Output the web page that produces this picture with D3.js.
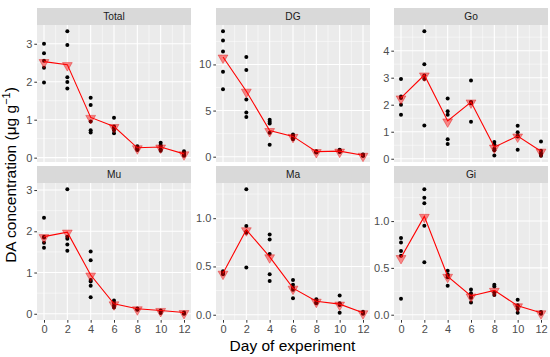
<!DOCTYPE html>
<html><head><meta charset="utf-8">
<script src="https://cdn.jsdelivr.net/npm/d3@7"></script>
<style>body{margin:0;background:#fff}svg{display:block}</style>
</head><body>
<svg id="c" width="550" height="357"></svg>
<script>
const days = [0, 2, 4, 6, 8, 10, 12];
const xTicks = [0, 2, 4, 6, 8, 10, 12];
const panelNames = ["Total", "DG", "Go", "Mu", "Ma", "Gi"];

// replicate points per day
const totalPts = [[3.0,2.75,2.55,2.37,1.98],[3.33,2.97,2.12,1.99,1.82],[1.58,1.39,0.95,0.72,0.66],[1.05,0.82,0.78,0.72,0.64],[0.30,0.27,0.24,0.22,0.20],[0.39,0.33,0.28,0.22,0.18],[0.17,0.12,0.09,0.07,0.05]];
const dgPts = [[13.6,12.6,11.4,9.2,7.3],[10.8,9.4,6.2,4.8,4.3],[4.0,3.8,3.6,2.6,1.3],[2.4,2.3,2.2,2.0,1.9],[0.6,0.55,0.5,0.5,0.45],[0.75,0.7,0.6,0.55,0.5],[0.25,0.2,0.15,0.1,0.1]];
const goPts = [[2.95,2.3,2.25,2.0,1.63],[4.72,3.5,3.08,2.95,1.23],[2.23,1.76,1.63,0.72,0.55],[2.9,2.1,2.05,2.05,1.37],[0.62,0.53,0.37,0.31,0.12],[1.22,0.98,0.85,0.82,0.33],[0.64,0.3,0.2,0.16,0.11]];
const muPts = [[2.33,1.87,1.85,1.72,1.6],[3.02,1.87,1.82,1.68,1.53],[1.51,1.30,0.82,0.78,0.68,0.40],[0.32,0.26,0.2,0.15],[0.13,0.11,0.1],[0.08,0.06,0.02],[0.03,0.01,0.0]];
const maPts = [[0.45,0.44,0.43,0.42],[1.30,0.92,0.86,0.85,0.49],[0.83,0.78,0.63,0.42,0.35],[0.36,0.31,0.28,0.26,0.17],[0.16,0.15,0.13,0.12],[0.2,0.12,0.1,0.02],[0.03,0.02,0.01]];
const giPts = [[0.82,0.77,0.68,0.63,0.17],[1.34,1.25,1.19,0.95,0.56],[0.47,0.43,0.42,0.40,0.31],[0.27,0.23,0.2,0.18,0.13],[0.32,0.30,0.24,0.21],[0.16,0.1,0.09,0.06,0.02],[0.03,0.02,0.01]];

// means (triangles)
const totalMean = [2.53, 2.45, 1.06, 0.82, 0.26, 0.28, 0.10];
const dgMean = [10.8, 7.1, 2.83, 2.2, 0.55, 0.6, 0.15];
const goMean = [2.25, 3.1, 1.4, 2.1, 0.43, 0.84, 0.28];
const muMean = [1.87, 1.98, 0.94, 0.24, 0.12, 0.08, 0.03];
const maMean = [0.43, 0.88, 0.60, 0.275, 0.14, 0.11, 0.02];
const giMean = [0.61, 1.05, 0.41, 0.20, 0.26, 0.095, 0.02];

const yTicks = [[0,1,2,3],[0,5,10],[0,1,2,3,4],[0,1,2,3],[0,0.5,1.0],[0,0.5,1.0]];
const yTickLabels = [["0","1","2","3"],["0","5","10"],["0","1","2","3","4"],["0","1","2","3"],["0.0","0.5","1.0"],["0.0","0.5","1.0"]];
const allPts = [totalPts, dgPts, goPts, muPts, maPts, giPts];
const allMeans = [totalMean, dgMean, goMean, muMean, maMean, giMean];

const svg = d3.select("#c");
const font = "Liberation Sans, Arial, sans-serif";
const colX = [37, 216, 394];
const panelW = 154;
const rowStripTop = [8, 166];
const stripH = 17;
const panelH = 137;

panelNames.forEach((name, i) => {
  const col = i % 3, row = Math.floor(i / 3);
  const x0 = colX[col];
  const sTop = rowStripTop[row];
  const pTop = sTop + stripH;
  const pts = allPts[i], means = allMeans[i];
  const flat = pts.flat().concat(means);
  const lo = d3.min(flat), hi = d3.max(flat), span = hi - lo;
  const y = d3.scaleLinear().domain([lo - 0.05 * span, hi + 0.05 * span]).range([pTop + panelH, pTop]);
  const x = d3.scaleLinear().domain([-0.6, 12.6]).range([x0, x0 + panelW]);
  const g = svg.append("g");
  // strip
  g.append("rect").attr("x", x0).attr("y", sTop).attr("width", panelW).attr("height", stripH).attr("fill", "#D9D9D9");
  g.append("text").attr("x", x0 + panelW / 2).attr("y", sTop + stripH / 2 + 3.6).attr("text-anchor", "middle")
    .attr("font-family", font).attr("font-size", 10.2).attr("fill", "#1A1A1A").text(name);
  // panel
  g.append("rect").attr("x", x0).attr("y", pTop).attr("width", panelW).attr("height", panelH).attr("fill", "#EBEBEB");
  // minor grid
  const yt = yTicks[i];
  const step = yt[1] - yt[0];
  const [dlo, dhi] = y.domain();
  const yMinor = [];
  for (let v = yt[0] - step / 2; v <= dhi; v += step) if (v >= dlo) yMinor.push(v);
  g.selectAll(".ymin").data(yMinor).enter().append("line")
    .attr("x1", x0).attr("x2", x0 + panelW).attr("y1", d => y(d)).attr("y2", d => y(d))
    .attr("stroke", "#fff").attr("stroke-width", 0.5);
  const xMinor = [1, 3, 5, 7, 9, 11];
  g.selectAll(".xmin").data(xMinor).enter().append("line")
    .attr("y1", pTop).attr("y2", pTop + panelH).attr("x1", d => x(d)).attr("x2", d => x(d))
    .attr("stroke", "#fff").attr("stroke-width", 0.5);
  // major grid
  g.selectAll(".ymaj").data(yt).enter().append("line")
    .attr("x1", x0).attr("x2", x0 + panelW).attr("y1", d => y(d)).attr("y2", d => y(d))
    .attr("stroke", "#fff").attr("stroke-width", 1.1);
  g.selectAll(".xmaj").data(xTicks).enter().append("line")
    .attr("y1", pTop).attr("y2", pTop + panelH).attr("x1", d => x(d)).attr("x2", d => x(d))
    .attr("stroke", "#fff").attr("stroke-width", 1.1);
  // y axis
  const ya = g.append("g").attr("transform", `translate(${x0},0)`)
    .call(d3.axisLeft(y).tickValues(yt).tickSize(2.7).tickPadding(2).tickFormat((d, k) => yTickLabels[i][k]));
  ya.select(".domain").remove();
  ya.selectAll("line").attr("stroke", "#333").attr("stroke-width", 1);
  ya.selectAll("text").attr("font-family", font).attr("font-size", 11).attr("fill", "#4D4D4D");
  // x axis (bottom row)
  if (row === 1) {
    const xa = g.append("g").attr("transform", `translate(0,${pTop + panelH})`)
      .call(d3.axisBottom(x).tickValues(xTicks).tickSize(2.7).tickPadding(2));
    xa.select(".domain").remove();
    xa.selectAll("line").attr("stroke", "#333").attr("stroke-width", 1);
    xa.selectAll("text").attr("font-family", font).attr("font-size", 11).attr("fill", "#4D4D4D");
  }
  // points
  const flatPts = [];
  pts.forEach((arr, k) => arr.forEach(v => flatPts.push([days[k], v])));
  g.selectAll(".pt").data(flatPts).enter().append("circle")
    .attr("cx", d => x(d[0])).attr("cy", d => y(d[1])).attr("r", 2).attr("fill", "#000");
  // mean line
  const line = d3.line().x((d, k) => x(days[k])).y(d => y(d));
  g.append("path").attr("d", line(means)).attr("fill", "none").attr("stroke", "#FF0000").attr("stroke-width", 1.1);
  // triangles
  const tri = d3.symbol(d3.symbolTriangle, 42);
  g.selectAll(".tri").data(means).enter().append("path")
    .attr("d", tri)
    .attr("transform", (d, k) => `translate(${x(days[k])},${y(d) + 0.8}) rotate(180)`)
    .attr("fill", "rgba(255,0,0,0.45)").attr("stroke", "rgba(220,0,0,0.6)").attr("stroke-width", 0.6);
});

// axis titles
svg.append("text").attr("x", 292.5).attr("y", 351).attr("text-anchor", "middle")
  .attr("font-family", font).attr("font-size", 15.5).attr("fill", "#000").text("Day of experiment");
const yt = svg.append("text").attr("transform", "translate(16,175) rotate(-90)").attr("text-anchor", "middle")
  .attr("font-family", font).attr("font-size", 15.5).attr("fill", "#000");
yt.append("tspan").text("DA concentration (μg  g");
yt.append("tspan").attr("dy", -6).attr("font-size", 11).text("−1");
yt.append("tspan").attr("dy", 6).text(")");
</script>
</body></html>
